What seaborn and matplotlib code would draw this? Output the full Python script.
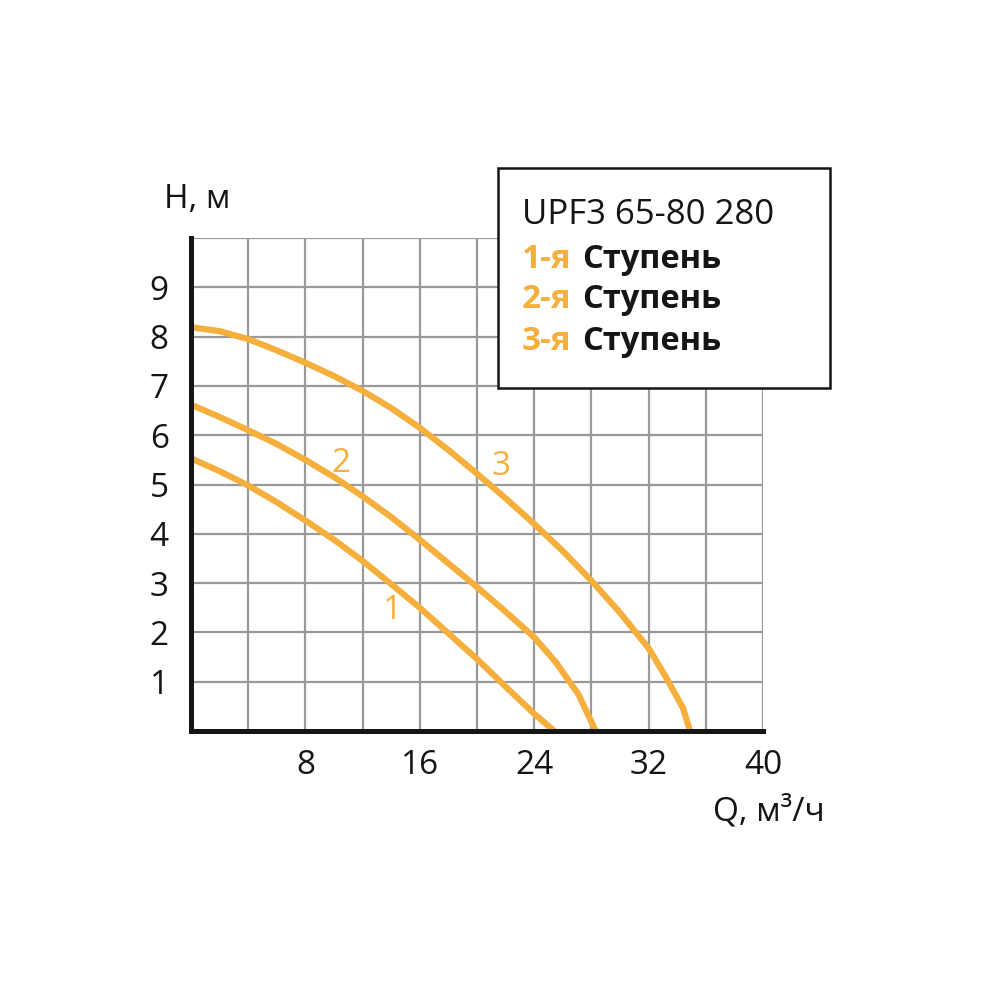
import matplotlib
matplotlib.use("Agg")
import matplotlib.pyplot as plt
from matplotlib.patches import Rectangle
import seaborn as sns
import pandas as pd

# ---- data ----
q1 = [0, 2, 4, 6, 8, 10, 12, 14, 16, 18, 20, 22, 24, 25.4]
h1 = [5.53, 5.27, 4.98, 4.64, 4.27, 3.88, 3.45, 2.98, 2.5, 1.98, 1.46, 0.9, 0.35, 0.0]

q2 = [0, 2, 4, 6, 8, 10, 12, 14, 16, 18, 20, 22, 24, 25.5, 27.1, 28.3]
h2 = [6.62, 6.37, 6.1, 5.82, 5.5, 5.15, 4.76, 4.34, 3.88, 3.4, 2.92, 2.42, 1.9, 1.4, 0.74, 0.0]

q3 = [0, 2, 4, 6, 8, 10, 12, 14, 16, 18, 20, 22, 24, 26, 28, 30, 32, 33.2, 34.4, 34.9]
h3 = [8.19, 8.11, 7.95, 7.72, 7.47, 7.2, 6.9, 6.55, 6.15, 5.7, 5.22, 4.72, 4.2,
      3.65, 3.05, 2.4, 1.68, 1.1, 0.47, 0.0]

x_ticks = [8, 16, 24, 32, 40]
y_ticks = [1, 2, 3, 4, 5, 6, 7, 8, 9]
curve_labels = ["1", "2", "3"]
label_pos = [(14.1, 2.44), (10.5, 5.43), (21.7, 5.37)]
title = "UPF3 65-80 280"
stage_nums = ["1-я", "2-я", "3-я"]
stage_word = "Ступень"
x_label = "Q, м³/ч"
y_label = "H, м"

ORANGE = "#F4AF3C"
GRID = "#9a9a9a"
INK = "#151515"

df = pd.concat([
    pd.DataFrame({"Q": q1, "H": h1, "curve": "1"}),
    pd.DataFrame({"Q": q2, "H": h2, "curve": "2"}),
    pd.DataFrame({"Q": q3, "H": h3, "curve": "3"}),
])

sns.set_theme(style="white")
plt.rcParams["font.family"] = ["Open Sans", "DejaVu Sans"]

fig = plt.figure(figsize=(10, 10), dpi=100)
ax = fig.add_axes([0.191, 0.269, 0.572, 0.493])

sns.lineplot(data=df, x="Q", y="H", units="curve", estimator=None,
             color=ORANGE, linewidth=4.5, ax=ax, legend=False, zorder=3,
             solid_capstyle="butt", solid_joinstyle="round")

ax.set_xlim(0, 40)
ax.set_ylim(0, 10)
ax.set_xticks(list(range(0, 41, 4)))
ax.set_xticklabels([str(v) if v in x_ticks else "" for v in range(0, 41, 4)])
ax.set_yticks(list(range(0, 11)))
ax.set_yticklabels([str(v) if v in y_ticks else "" for v in range(0, 11)])
ax.grid(True, color=GRID, linewidth=1.6)
ax.set_axisbelow(True)
ax.tick_params(axis="both", length=0, labelsize=24, colors=INK)
ax.tick_params(axis="x", pad=13)
ax.tick_params(axis="y", pad=16)
ax.set_xlabel("")
ax.set_ylabel("")
for s in ["top", "right"]:
    ax.spines[s].set_visible(False)
for s in ["left", "bottom"]:
    ax.spines[s].set_color(INK)
    ax.spines[s].set_linewidth(3.6)
    ax.spines[s].set_zorder(4)

for lab, (x, y) in zip(curve_labels, label_pos):
    ax.text(x, y, lab, color=ORANGE, fontsize=24, ha="center", va="center",
            zorder=5)

fig.text(0.197, 0.800, y_label, fontsize=24, ha="center", va="center",
         color=INK)
fig.text(0.769, 0.188, x_label, fontsize=24, ha="center", va="center",
         color=INK)

# legend box
rect = Rectangle((0.498, 0.612), 0.332, 0.220, transform=fig.transFigure,
                 facecolor="white", edgecolor=INK, linewidth=1.8,
                 zorder=10)
fig.patches.append(rect)

fig.text(0.522, 0.785, title, fontsize=25, ha="left", va="center",
         color=INK, zorder=11)
ys = [0.741, 0.700, 0.658]
nums = []
for num, y in zip(stage_nums, ys):
    t1 = fig.text(0.522, y, num, fontsize=24, ha="left", va="center",
                  color=ORANGE, fontweight="bold", zorder=11)
    nums.append((t1, y))

fig.canvas.draw()
renderer = fig.canvas.get_renderer()
for t1, y in nums:
    bb = t1.get_window_extent(renderer)
    x_next = bb.x1 / fig.bbox.width + 0.010
    fig.text(x_next, y, stage_word, fontsize=23.5, ha="left", va="center",
             color=INK, fontweight="bold", zorder=11)

fig.savefig("out.png", dpi=100, facecolor="white")
